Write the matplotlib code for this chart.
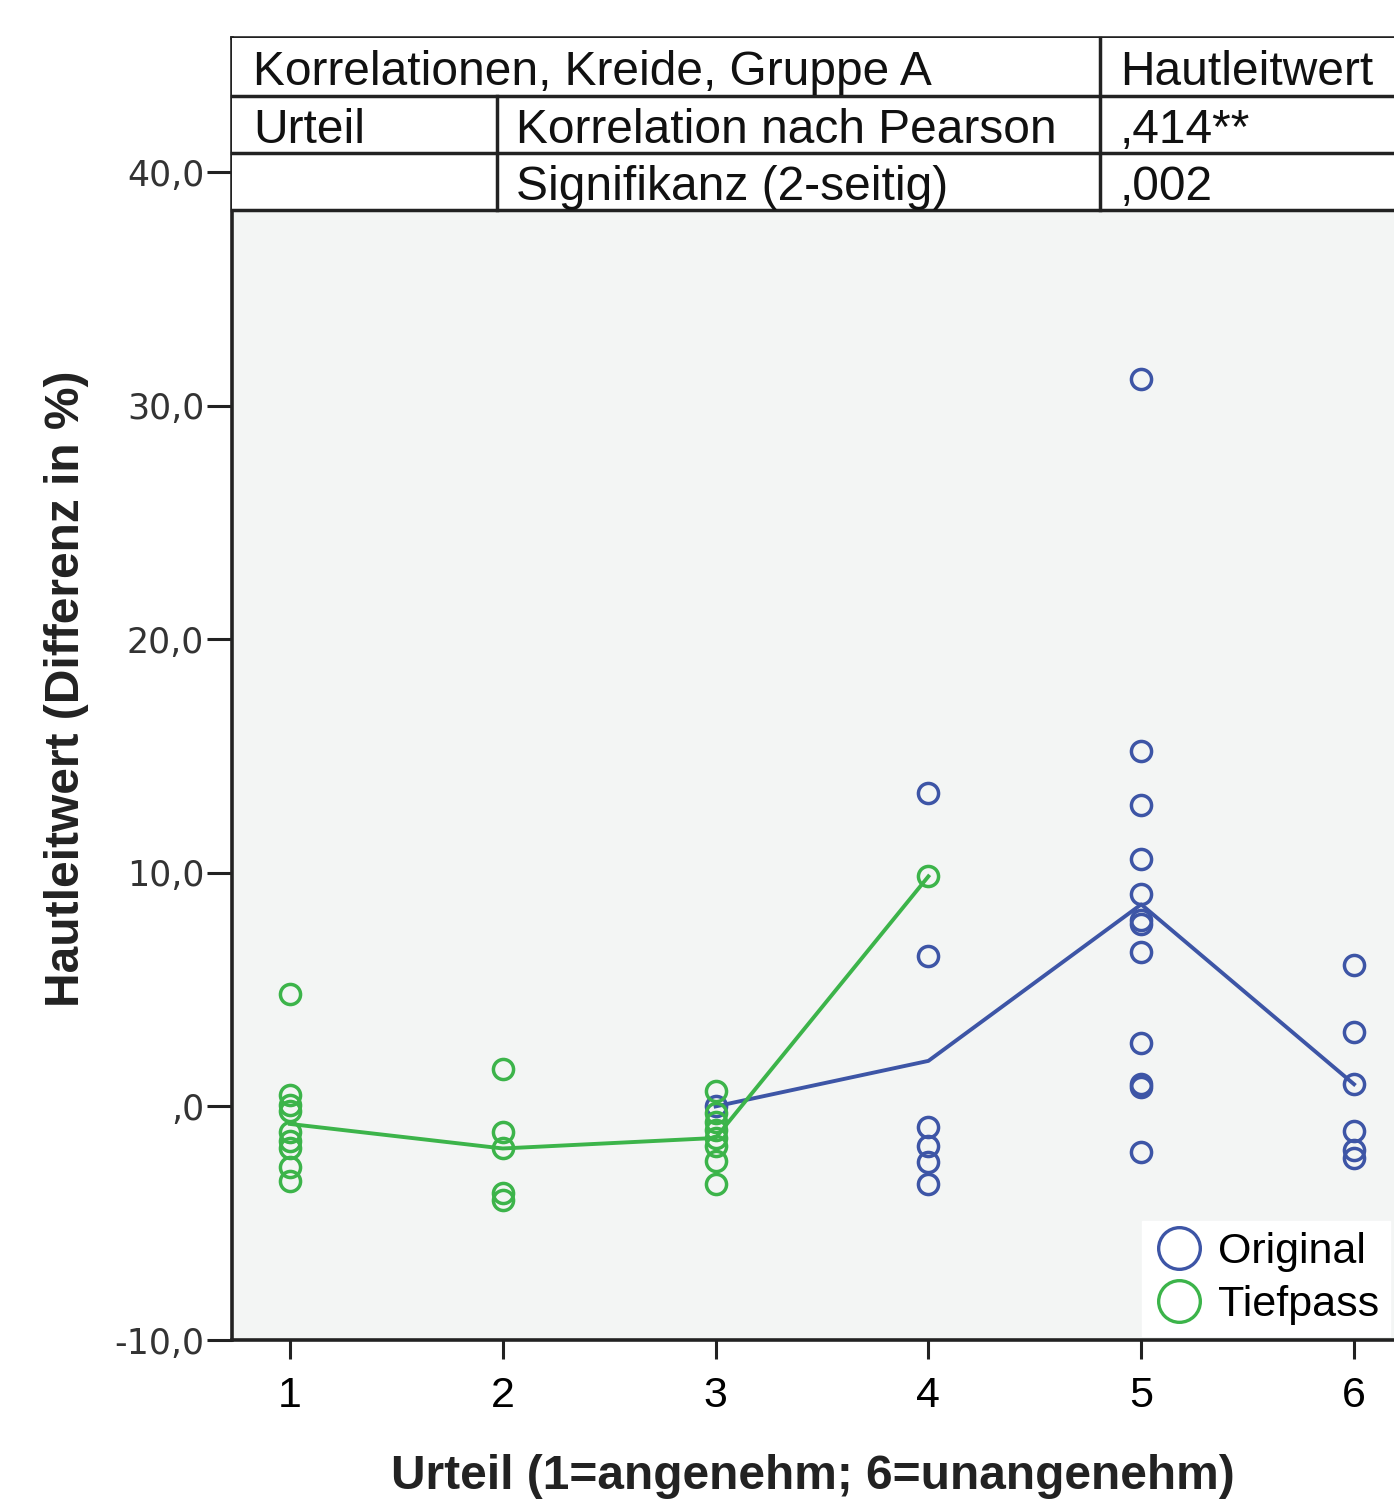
#!/usr/bin/env python3
"""Scatter + mean lines: Hautleitwert vs Urteil, Kreide, Gruppe A."""

import matplotlib
matplotlib.use("Agg")
import matplotlib.pyplot as plt
from matplotlib.lines import Line2D
from matplotlib.patches import Rectangle

# --- data ---
tief_x = [1] * 9 + [2] * 5 + [3] * 8 + [4]
tief_y = [4.8, 0.5, 0.05, -0.2, -1.1, -1.5, -1.8, -2.6, -3.2,
          1.6, -1.1, -1.8, -3.7, -4.0,
          0.65, -0.3, -0.65, -1.0, -1.35, -1.7, -2.35, -3.3,
          9.85]
orig_x = [3] + [4] * 6 + [5] * 12 + [6] * 6
orig_y = [0.0,
          13.4, 6.45, -0.9, -1.7, -2.4, -3.3,
          31.15, 15.2, 12.9, 10.6, 9.1, 8.0, 7.8, 6.6, 2.7, 0.95, 0.85, -1.95,
          6.05, 3.2, 0.95, -1.05, -1.85, -2.2]

tief_mean_x = [1, 2, 3, 4]
tief_mean_y = [-0.75, -1.8, -1.35, 9.85]
orig_mean_x = [3, 4, 5, 6]
orig_mean_y = [0.0, 1.95, 8.65, 0.95]

yticks = [-10, 0, 10, 20, 30, 40]
ytick_labels = ["-10,0", ",0", "10,0", "20,0", "30,0", "40,0"]
xticks = [1, 2, 3, 4, 5, 6]

table_rows = [
    ("Korrelationen, Kreide, Gruppe A", None, "Hautleitwert"),
    ("Urteil", "Korrelation nach Pearson", ",414**"),
    ("", "Signifikanz (2-seitig)", ",002"),
]

BLUE = "#3d55a6"
GREEN = "#3cb44a"
INK = "#222222"
W, H = 1394, 1503

fig = plt.figure(figsize=(W / 100, H / 100), dpi=100)
ax = fig.add_axes([232 / W, 1 - 1340 / H, (W - 232) / W, (1340 - 38) / H])
ax.set_facecolor("#f3f5f4")

ax.plot(orig_mean_x, orig_mean_y, color=BLUE, lw=2.8, zorder=2)
ax.plot(orig_x, orig_y, "o", ms=14.5, mfc="none", mec=BLUE, mew=2.5, zorder=2)
ax.plot(tief_mean_x, tief_mean_y, color=GREEN, lw=2.8, zorder=2)
ax.plot(tief_x, tief_y, "o", ms=14.5, mfc="none", mec=GREEN, mew=2.5, zorder=2)

ax.set_xlim(1 - 58 / 213, 6 + 40 / 213)
ax.set_ylim(-10, 40 + (172 - 38) / 23.33)
ax.set_xticks(xticks)
ax.set_xticklabels([str(v) for v in xticks], fontsize=31, family="Liberation Sans")
ax.set_yticks(yticks)
ax.set_yticklabels(ytick_labels, fontsize=25, family="DejaVu Sans", color="#333333")
ax.tick_params(axis="y", length=18, width=2.2, pad=2, color=INK)
ax.tick_params(axis="x", length=14, width=2.2, pad=12, color=INK)
for side in ("left", "bottom", "top"):
    ax.spines[side].set_linewidth(2.6)
    ax.spines[side].set_color(INK)
ax.spines["right"].set_visible(False)

ax.set_xlabel("Urteil (1=angenehm; 6=unangenehm)", fontsize=34.5, fontweight="bold",
              family="Liberation Sans", color="#222222", labelpad=27)
ax.set_ylabel("Hautleitwert (Differenz in %)", fontsize=34.5, fontweight="bold",
              family="Liberation Sans", color="#222222", labelpad=18)

# --- correlation table laid over the top of the plot ---
def fx(px):
    return (px - 232) / (W - 232)


def fy(py):
    return (1340 - py) / (1340 - 38)


tr = ax.transAxes
ax.add_patch(Rectangle((0, fy(210)), 1, 1 - fy(210), transform=tr,
                       facecolor="white", edgecolor="none", zorder=3, clip_on=False))
for py in (96, 153, 210):
    ax.add_line(Line2D([0, 1], [fy(py)] * 2, transform=tr, color=INK, lw=2.5,
                       zorder=4, clip_on=False))
ax.add_line(Line2D([fx(497)] * 2, [fy(96), fy(210)], transform=tr, color=INK, lw=2.5,
                   zorder=4, clip_on=False))
ax.add_line(Line2D([fx(1100)] * 2, [fy(38), fy(210)], transform=tr, color=INK, lw=2.5,
                   zorder=4, clip_on=False))

baselines = [85, 143, 200]
for (c1, c2, c3), base in zip(table_rows, baselines):
    for txt, left in ((c1, 253), (c2, 516), (c3, 1120)):
        if txt:
            ax.text(fx(left), fy(base), txt, transform=tr, fontsize=34.5,
                    family="Liberation Sans", color="#111111", va="baseline",
                    ha="left", zorder=5)

handles = [
    Line2D([], [], ls="none", marker="o", ms=30, mfc="none", mec=BLUE, mew=2.4),
    Line2D([], [], ls="none", marker="o", ms=30, mfc="none", mec=GREEN, mew=2.4),
]
leg = ax.legend(handles, ["Original", "Tiefpass"], loc="lower right",
                bbox_to_anchor=(1.0, 0.0), borderaxespad=0.1, fancybox=False,
                frameon=True, framealpha=1, edgecolor="white", facecolor="white",
                prop={"family": "Liberation Sans", "size": 31}, handletextpad=0.3,
                labelspacing=0.3, borderpad=0.25, handlelength=1.2)

fig.savefig("out.png", dpi=100)
